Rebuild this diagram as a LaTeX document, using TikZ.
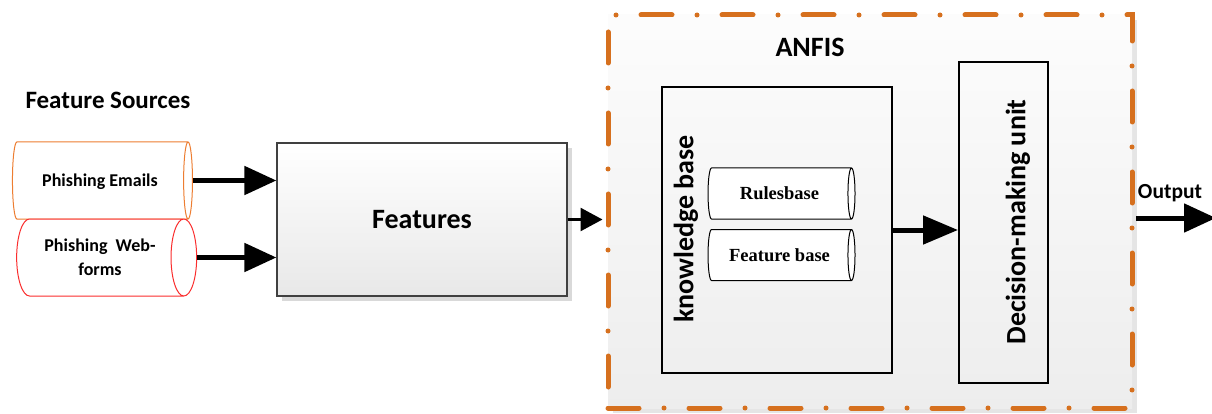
\documentclass[tikz,border=0pt]{standalone}
\usepackage{fontspec}
\setmainfont{Carlito}
\newfontfamily\timesfont{Liberation Serif}
\usetikzlibrary{shapes.geometric,arrows.meta,shadows}
\definecolor{anfisorange}{RGB}{214,112,30}
\definecolor{mailorange}{RGB}{237,125,49}
\definecolor{formred}{RGB}{250,45,45}
\begin{document}
\begin{tikzpicture}[x=1pt,y=-1pt,title node/.style={font=\fontsize{25}{30}\selectfont\bfseries, inner sep=0pt},source node/.style={cylinder, fill=white, line width=1pt, aspect=0.7, minimum height=180pt, minimum width=77pt, inner sep=0pt, align=center, text depth=0pt, font=\fontsize{18}{24}\selectfont\bfseries},base node/.style={cylinder, draw=black, fill=white, line width=1pt, aspect=0.55, minimum height=147pt, minimum width=51pt, inner sep=0pt, text depth=0pt, font=\fontsize{18.5}{22}\selectfont\timesfont\bfseries},feature node/.style={draw=black!75, line width=1.2pt, top color=white, bottom color=black!9, minimum width=290pt, minimum height=153pt, font=\fontsize{28}{32}\selectfont\bfseries, drop shadow={shadow xshift=5pt, shadow yshift=-5pt, fill=black!15, opacity=1}},anfis node/.style={draw=anfisorange, line width=5pt, line cap=round, dash pattern=on 31pt off 25pt on 0pt off 25pt, top color=black!1, bottom color=black!7, minimum width=524pt, minimum height=393pt, drop shadow={shadow xshift=5pt, shadow yshift=-5pt, fill=black!10, opacity=1}},unit node/.style={draw=black, line width=2pt, inner sep=0pt},side label/.style={rotate=90, font=\fontsize{28}{32}\selectfont\bfseries, inner sep=0pt},big arrow/.style={line width=5pt, -{Triangle[length=32pt, width=28pt]}},thin arrow/.style={line width=2.5pt, -{Triangle[length=22pt, width=23pt]}}]%
\path[use as bounding box] (0,0) rectangle (1212,414);%
  % Sources%
\node[title node] (srctitle) at (108,100) {Feature Sources};%
\node[source node, draw=mailorange] (mails) at (100,180.5) {Phishing Emails};%
\node[source node, draw=formred] (forms) at (100,257.5) {Phishing\ \ Web-\\forms};%
  % Features%
\node[feature node] (feat) at (422,219.5) {Features};%
  % ANFIS%
\node[anfis node] (anfis) at (870,211.5) {};%
\node[title node, font=\fontsize{28}{32}\selectfont\bfseries] (anfistitle) at (810,47) {ANFIS};%
\node[unit node, minimum width=230pt, minimum height=286pt] (kb) at (777,230) {};%
\node[side label] (kblabel) at (686,229) {knowledge base};%
\node[base node] (rules) at (779.5,193.5) {Rulesbase};%
\node[base node] (fbase) at (779.5,255) {Feature base};%
\node[unit node, minimum width=89pt, minimum height=321pt] (dmu) at (1003.5,222.5) {};%
\node[side label] (dmulabel) at (1018,222) {Decision-making unit};%
  % Output%
\node[title node, font=\fontsize{21.5}{26}\selectfont\bfseries] (outlabel) at (1170,193) {Output};%
\coordinate (out) at (1216,218);%
\draw[big arrow] (mails.east) -- (mails.east -| feat.west);%
\draw[big arrow] (forms.east) -- (forms.east -| feat.west);%
\draw[thin arrow, shorten >=3pt] (feat.east) -- (feat.east -| anfis.west);%
\draw[big arrow, -{Triangle[length=35pt, width=28pt]}] (kb.east) -- (kb.east -| dmu.west);%
\draw[big arrow, shorten <=1.5pt] (anfis.east |- out) -- (out);%
\end{tikzpicture}
\end{document}
